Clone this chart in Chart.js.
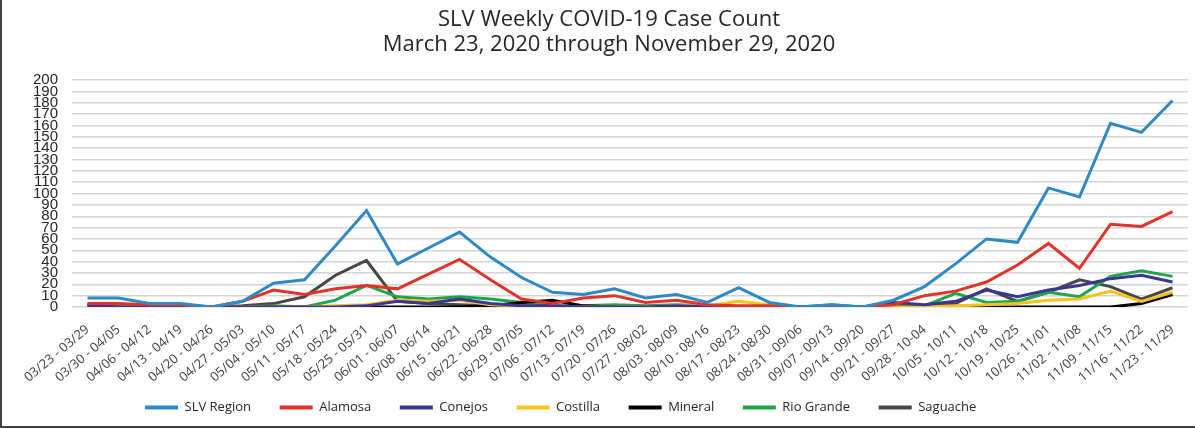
<!DOCTYPE html>
<html>
<head>
<meta charset="utf-8">
<script src="https://cdn.jsdelivr.net/npm/chart.js@4"></script>
<style>
    html, body { margin: 0; padding: 0; background: #fff; }
    #wrap { position: relative; width: 1195px; height: 428px; }
    #frame {
        position: absolute; left: 0; top: 0; width: 1195px; height: 428px;
        box-sizing: border-box; border-left: 2px solid #404040; border-bottom: 2px solid #404040;
        pointer-events: none;
    }
</style>
</head>
<body>
<div id="wrap">
    <canvas id="covidChart"></canvas>
    <div id="frame"></div>
</div>
<script>
// Semaines (libellés de l'axe X)
const weeks = [
    "03/23 - 03/29", "03/30 - 04/05", "04/06 - 04/12", "04/13 - 04/19", "04/20 - 04/26",
    "04/27 - 05/03", "05/04 - 05/10", "05/11 - 05/17", "05/18 - 05/24", "05/25 - 05/31",
    "06/01 - 06/07", "06/08 - 06/14", "06/15 - 06/21", "06/22 - 06/28", "06/29 - 07/05",
    "07/06 - 07/12", "07/13 - 07/19", "07/20 - 07/26", "07/27 - 08/02", "08/03 - 08/09",
    "08/10 - 08/16", "08/17 - 08/23", "08/24 - 08/30", "08/31 - 09/06", "09/07 - 09/13",
    "09/14 - 09/20", "09/21 - 09/27", "09/28 - 10-04", "10/05 - 10/11", "10/12 - 10/18",
    "10/19 - 10/25", "10/26 - 11/01", "11/02 - 11/08", "11/09 - 11/15", "11/16 - 11/22",
    "11/23 - 11/29"
];

// Cas hebdomadaires par comté
const slvRegion = [8, 8, 3, 3, 0, 5, 21, 24, 54, 85, 38, 52, 66, 44, 26, 13, 11, 16, 8, 11, 4, 17, 4, 0, 2, 0, 6, 18, 38, 60, 57, 105, 97, 162, 154, 182];
const alamosa   = [3, 3, 2, 2, 0, 5, 15, 11, 16, 19, 16, 29, 42, 24, 7, 3, 8, 10, 4, 6, 2, 1, 1, 0, 1, 0, 2, 10, 14, 22, 37, 56, 34, 73, 71, 84];
const conejos   = [1, 0, 0, 0, 0, 0, 0, 0, 0, 1, 5, 3, 7, 3, 1, 1, 0, 0, 0, 1, 0, 0, 0, 0, 0, 0, 4, 2, 5, 15, 9, 15, 19, 25, 28, 22];
const costilla  = [0, 0, 0, 0, 0, 0, 0, 0, 1, 2, 6, 5, 6, 2, 1, 0, 0, 0, 0, 1, 1, 5, 2, 0, 0, 0, 0, 0, 1, 2, 3, 6, 7, 14, 5, 13];
const mineral   = [1, 0, 0, 0, 0, 0, 0, 0, 0, 0, 0, 0, 0, 1, 4, 6, 1, 0, 0, 0, 0, 0, 0, 0, 0, 0, 0, 0, 0, 0, 0, 0, 0, 0, 3, 11];
const rioGrande = [3, 2, 1, 2, 0, 0, 1, 0, 6, 19, 9, 7, 9, 7, 4, 1, 1, 2, 1, 2, 1, 0, 0, 0, 2, 0, 0, 1, 12, 4, 5, 13, 9, 27, 32, 27];
const saguache  = [1, 0, 0, 0, 0, 1, 3, 9, 28, 41, 5, 3, 2, 1, 1, 0, 0, 0, 0, 0, 0, 0, 0, 0, 0, 0, 1, 1, 3, 16, 5, 13, 24, 18, 7, 17];

const seriesNames = ["SLV Region", "Alamosa", "Conejos", "Costilla", "Mineral", "Rio Grande", "Saguache"];
const seriesData = [slvRegion, alamosa, conejos, costilla, mineral, rioGrande, saguache];
const seriesColors = ["#2f8ac4", "#e2332a", "#3b3593", "#f7c21c", "#000000", "#1fa64b", "#474747"];

const datasets = seriesNames.map((name, i) => ({
    label: name,
    data: seriesData[i],
    borderColor: seriesColors[i],
    backgroundColor: seriesColors[i],
    borderWidth: 3,
    pointRadius: 0,
    tension: 0
}));

// Décaler la légende vers la gauche, comme dans l'original
const legendShift = {
    id: 'legendShift',
    afterLayout(chart) {
        chart.legend.left -= 44;
        chart.legend.right -= 44;
    }
};

new Chart(document.getElementById('covidChart'), {
    type: 'line',
    data: { labels: weeks, datasets: datasets },
    plugins: [legendShift],
    options: {
        responsive: true,
        maintainAspectRatio: false,
        animation: false,
        layout: { padding: { left: 30, right: 7, top: 6, bottom: 4 } },
        scales: {
            x: {
                offset: true,
                grid: { display: false },
                border: { display: false },
                ticks: {
                    autoSkip: false,
                    maxRotation: 40,
                    minRotation: 40,
                    padding: 7,
                    color: '#404040',
                    font: { family: 'Open Sans', size: 13 }
                },
                afterFit: (scale) => { scale.height = 74; }
            },
            y: {
                min: 0,
                max: 200,
                grid: { color: '#d4d4d4', lineWidth: 1.5, drawTicks: false },
                border: { display: false },
                ticks: {
                    stepSize: 10,
                    autoSkip: false,
                    padding: 14,
                    color: '#262626',
                    font: { family: 'Liberation Sans', size: 15 }
                },
                afterFit: (scale) => { scale.width = 42; }
            }
        },
        plugins: {
            title: {
                display: true,
                text: ['SLV Weekly COVID-19 Case Count', 'March 23, 2020 through November 29, 2020'],
                color: '#262626',
                font: { family: 'Open Sans', size: 22, weight: 'normal', lineHeight: 1.14 },
                padding: { top: 1.5, bottom: 22.5 }
            },
            legend: {
                position: 'bottom',
                labels: {
                    usePointStyle: true,
                    pointStyle: 'line',
                    pointStyleWidth: 33,
                    padding: 20,
                    color: '#262626',
                    font: { family: 'Open Sans', size: 13 },
                    generateLabels: (chart) => Chart.defaults.plugins.legend.labels.generateLabels(chart)
                        .map(item => Object.assign(item, { lineWidth: 4, text: item.text + '\u2002\u2009' }))
                }
            },
            tooltip: { enabled: false }
        }
    }
});
</script>
</body>
</html>
